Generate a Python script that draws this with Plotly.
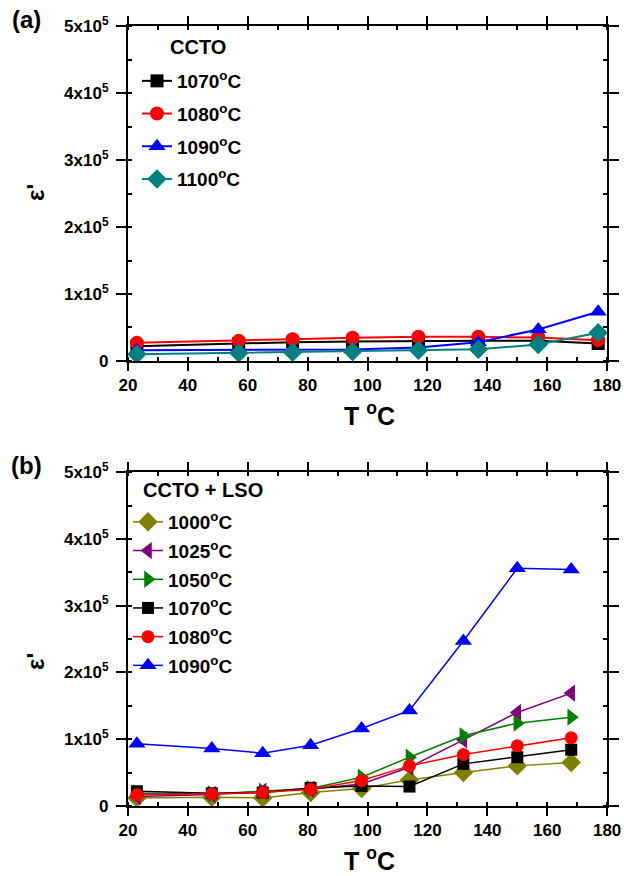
import plotly.graph_objects as go

# ---------- data: panel (a) CCTO ----------
t_a = [23, 57, 75, 95, 117, 137, 157, 177]
a_1070 = [22000, 26000, 28000, 29000, 30000, 30000, 30000, 26000]
a_1080 = [27000, 30000, 32500, 34500, 36000, 36000, 35000, 31000]
a_1090 = [16000, 16000, 16000, 17000, 20000, 28000, 47000, 73500]
a_1100 = [10000, 12000, 13000, 14000, 16000, 17500, 24500, 42000]

# ---------- data: panel (b) CCTO + LSO ----------
t_b = [23, 48, 65, 81, 98, 114, 132, 150, 168]
b_1000 = [12000, 13000, 12000, 20000, 26000, 39000, 50000, 60000, 65000]
b_1025 = [14000, 17000, 22000, 25000, 33000, 58000, 99000, 140000, 169000]
b_1050 = [19000, 18000, 22000, 26000, 43000, 73000, 105000, 124000, 133000]
b_1070 = [22000, 19000, 20000, 27000, 30000, 29000, 63000, 73000, 84000]
b_1080 = [17000, 18000, 20000, 25000, 38000, 60000, 77000, 90000, 102000]
b_1090 = [93000, 86000, 79000, 91000, 116000, 143000, 247000, 356000, 354000]

y_tickvals = [0, 100000, 200000, 300000, 400000, 500000]
y_ticktext = ["0", "1x10<sup>5</sup>", "2x10<sup>5</sup>", "3x10<sup>5</sup>",
              "4x10<sup>5</sup>", "5x10<sup>5</sup>"]
x_tickvals = [20, 40, 60, 80, 100, 120, 140, 160, 180]

FONT = "Liberation Sans, Arial, sans-serif"

fig = go.Figure()

series_a = [
    ("1070<sup>o</sup>C", a_1070, "#000000", "square", 13),
    ("1080<sup>o</sup>C", a_1080, "#FF0000", "circle", 14),
    ("1090<sup>o</sup>C", a_1090, "#0000FF", "triangle-up", 15),
    ("1100<sup>o</sup>C", a_1100, "#008080", "diamond", 15),
]
for i, (name, vals, col, sym, sz) in enumerate(series_a):
    fig.add_trace(go.Scatter(
        x=t_a, y=vals, name=name, mode="lines+markers",
        line=dict(color=col, width=2),
        marker=dict(color=col, symbol=sym, size=sz, line=dict(width=0)),
        xaxis="x", yaxis="y", legend="legend", legendgroup="a%d" % i,
    ))

series_b = [
    ("1000<sup>o</sup>C", b_1000, "#808000", "diamond", 15),
    ("1025<sup>o</sup>C", b_1025, "#800080", "triangle-left", 15),
    ("1050<sup>o</sup>C", b_1050, "#008000", "triangle-right", 15),
    ("1070<sup>o</sup>C", b_1070, "#000000", "square", 12),
    ("1080<sup>o</sup>C", b_1080, "#FF0000", "circle", 13),
    ("1090<sup>o</sup>C", b_1090, "#0000FF", "triangle-up", 15),
]
for i, (name, vals, col, sym, sz) in enumerate(series_b):
    fig.add_trace(go.Scatter(
        x=t_b, y=vals, name=name, mode="lines+markers",
        line=dict(color=col, width=1.5),
        marker=dict(color=col, symbol=sym, size=sz, line=dict(width=0)),
        xaxis="x2", yaxis="y2", legend="legend2", legendgroup="b%d" % i,
    ))

tickfont = dict(family=FONT, size=17, color="black", weight="bold")

def xax(domain, anchor):
    return dict(domain=domain, anchor=anchor, range=[20, 180], automargin=False,
                tickvals=x_tickvals, ticks="outside", ticklen=8, tickwidth=2,
                minor=dict(dtick=10, ticks="inside", ticklen=4, tickwidth=1.5, tickcolor="black"),
                showline=True, linecolor="black", linewidth=2, mirror="allticks",
                showgrid=False, zeroline=False, tickfont=tickfont, tickcolor="black")

def yax(domain, anchor):
    return dict(domain=domain, anchor=anchor, range=[0, 500000], automargin=False,
                tickvals=y_tickvals, ticktext=y_ticktext, ticks="outside", ticklen=10, tickwidth=2,
                ticklabelstandoff=4,
                minor=dict(dtick=50000, tick0=0, ticks="inside", ticklen=4, tickwidth=1.5, tickcolor="black"),
                showline=True, linecolor="black", linewidth=2, mirror="allticks",
                showgrid=False, zeroline=False, tickfont=tickfont, tickcolor="black")

legfont = dict(family=FONT, size=19, color="black", weight="bold")

fig.update_layout(
    width=624, height=876,
    margin=dict(l=0, r=0, t=0, b=0),
    paper_bgcolor="white", plot_bgcolor="white",
    xaxis=xax([0.205, 0.973], "y"),
    yaxis=yax([0.588, 0.970], "x"),
    xaxis2=xax([0.205, 0.973], "y2"),
    yaxis2=yax([0.080, 0.461], "x2"),
    legend=dict(x=137 / 624, y=1 - 62 / 876, xanchor="left", yanchor="top",
                bgcolor="rgba(0,0,0,0)", font=legfont, tracegroupgap=5),
    legend2=dict(x=128 / 624, y=1 - 503 / 876, xanchor="left", yanchor="top",
                 bgcolor="rgba(0,0,0,0)", font=legfont, tracegroupgap=1),
    showlegend=True,
)

ann_font_title = dict(family=FONT, size=25, color="black", weight="bold")
leg_title_font = dict(family=FONT, size=20, color="black", weight="bold")

def ann(text, px, py, font, angle=0):
    return dict(text=text, x=px / 624, y=1 - py / 876, xref="paper", yref="paper",
                xanchor="center", yanchor="middle", showarrow=False,
                textangle=angle, font=font)

panel_font = dict(family=FONT, size=24, color="black", weight="bold")
eps_font = dict(family=FONT, size=24, color="black", weight="bold")
annotations = [
    ann("(a)", 26, 20, panel_font),
    ann("(b)", 26, 465, panel_font),
    ann("CCTO", 198, 47, leg_title_font),
    ann("CCTO + LSO", 203, 490, leg_title_font),
    ann("T <sup>o</sup>C", 369, 414, ann_font_title),
    ann("T <sup>o</sup>C", 369, 859, ann_font_title),
    ann("ε'", 35, 193, eps_font, -90),
    ann("ε'", 35, 662, eps_font, -90),
]
fig.update_layout(annotations=annotations)

fig.write_html("out.html", config={"displayModeBar": False},
               post_script="document.body.style.margin='0px';document.body.style.overflow='hidden';")
